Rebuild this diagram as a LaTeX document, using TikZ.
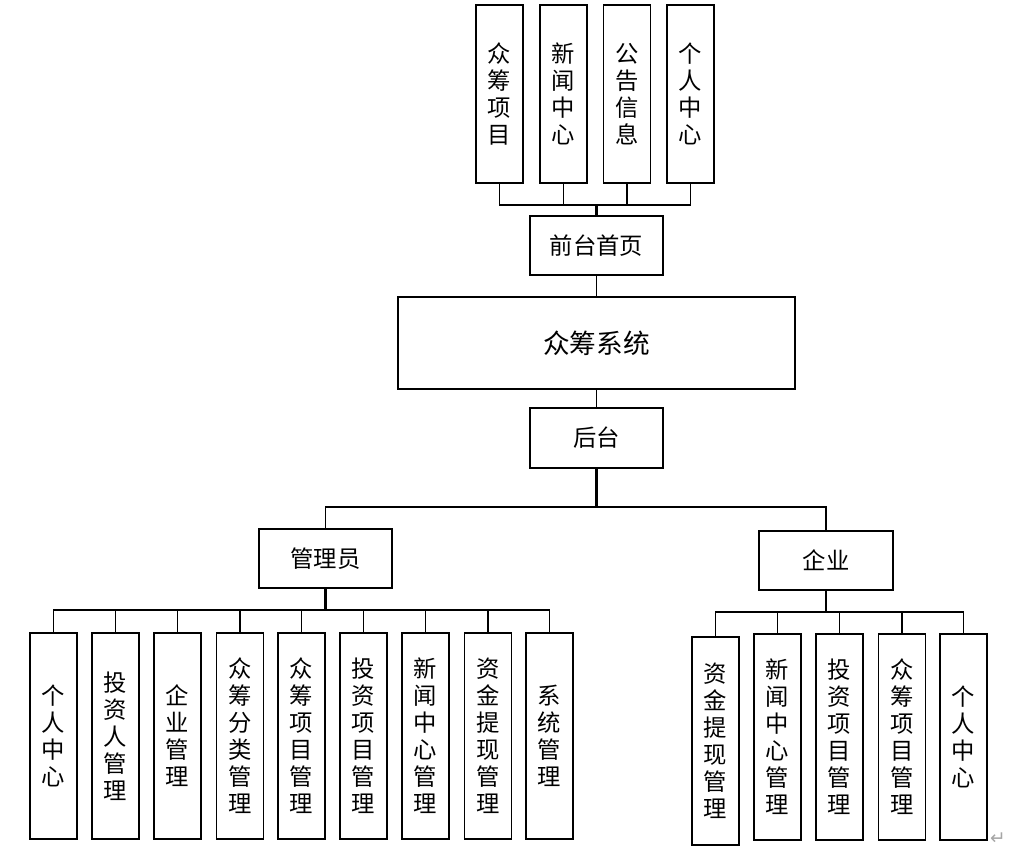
\documentclass[tikz,border=0pt]{standalone}
\usepackage{fontspec}
\newfontfamily\cjk{Noto Sans CJK SC}
\newfontfamily\dejavu{DejaVu Sans}
\begin{document}
\begin{tikzpicture}[x=0.75pt,y=-0.75pt,
	box/.style={draw, line width=1.1pt, inner sep=0pt, align=center, font=\cjk\fontsize{17.5}{20.25}\selectfont},
	item/.style={box, minimum width=35.25pt, minimum height=133.5pt},
	leaf/.style={box, minimum width=35.25pt, minimum height=154.5pt},
	mid/.style={box, minimum width=99.75pt, minimum height=44.25pt},
	link/.style={line width=1.1pt},
	trunk/.style={line width=2pt}]
	\useasboundingbox (0,0) rectangle (1034,849);
	% front end
	\node[item] (t1) at (499.5,94) {众\\筹\\项\\目};
	\node[item] (t2) at (563.5,94) {新\\闻\\中\\心};
	\node[item] (t3) at (627,94) {公\\告\\信\\息};
	\node[item] (t4) at (690.5,94) {个\\人\\中\\心};
	\node[mid] (front) at (596.5,245.5) {前台首页};
	\node[box, minimum width=297.75pt, minimum height=69pt, font=\cjk\fontsize{20}{24}\selectfont] (sys) at (596.5,343) {众筹系统};
	\node[mid, minimum height=45pt] (back) at (596.5,438) {后台};
	% back end
	\node[mid] (admin) at (325.5,558.5) {管理员};
	\node[mid, minimum width=100.5pt] (ent) at (826,560.5) {企业};
	\node[leaf] (a1) at (53.5,736) {个\\人\\中\\心};
	\node[leaf] (a2) at (115.5,736) {投\\资\\人\\管\\理};
	\node[leaf] (a3) at (177.5,736) {企\\业\\管\\理};
	\node[leaf] (a4) at (240,736) {众\\筹\\分\\类\\管\\理};
	\node[leaf] (a5) at (301.5,736) {众\\筹\\项\\目\\管\\理};
	\node[leaf] (a6) at (363.5,736) {投\\资\\项\\目\\管\\理};
	\node[leaf] (a7) at (425.5,736) {新\\闻\\中\\心\\管\\理};
	\node[leaf] (a8) at (488,736) {资\\金\\提\\现\\管\\理};
	\node[leaf] (a9) at (549.5,736) {系\\统\\管\\理};
	\node[leaf, minimum height=156pt] (e1) at (715.5,741) {资\\金\\提\\现\\管\\理};
	\node[leaf] (e2) at (777.5,737) {新\\闻\\中\\心\\管\\理};
	\node[leaf] (e3) at (839.5,737) {投\\资\\项\\目\\管\\理};
	\node[leaf] (e4) at (902,737) {众\\筹\\项\\目\\管\\理};
	\node[leaf] (e5) at (963.5,737) {个\\人\\中\\心};
	\node[gray!70, font=\dejavu\fontsize{14}{16}\selectfont] (mark) at (998,839) {↵};
	% connectors
	\coordinate (tb) at (596.5,205);
	\coordinate (mb) at (596.5,507);
	\coordinate (ab) at (325.5,610);
	\coordinate (eb) at (826,612);
	\foreach \i in {1,...,4}
		\draw[link] (t\i.south) |- (tb);
	\draw[trunk] (tb) -- (front.north);
	\draw[link] (front.south) -- (sys.north);
	\draw[link] (sys.south) -- (back.north);
	\draw[trunk] (back.south) -- (mb);
	\draw[link] (admin.north) |- (mb) -| (ent.north);
	\draw[trunk] (admin.south) -- (ab);
	\draw[trunk] (ent.south) -- (eb);
	\foreach \i in {1,...,9}
		\draw[link] (a\i.north) |- (ab);
	\foreach \i in {1,...,5}
		\draw[link] (e\i.north) |- (eb);
\end{tikzpicture}
\end{document}
